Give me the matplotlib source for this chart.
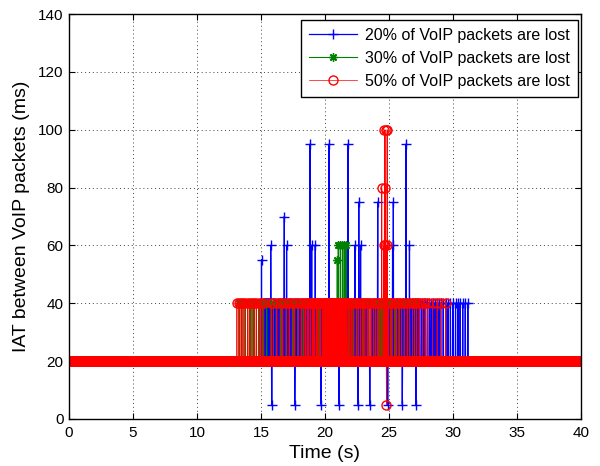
import matplotlib
matplotlib.use("Agg")
import matplotlib.pyplot as plt
import numpy as np

plt.rcParams['font.family'] = ['Liberation Sans', 'DejaVu Sans']

# packets every 20 ms, IAT baseline is 20 ms
packet_step = 0.02
t_end = 40.0
base_iat = 20

# 20% loss: times where one packet was lost (IAT = 40 ms)
blue_loss_t = [
    15.05, 15.12, 15.2, 15.26, 15.3, 15.34, 15.38, 15.42, 15.46, 15.5, 15.54, 15.58, 15.62, 15.66,
    15.7, 15.78, 15.85, 15.92, 16.0,
    16.08, 16.2, 16.3, 16.38, 16.46, 16.55, 16.65, 16.72, 16.8, 16.9, 17.0, 17.1, 17.18, 17.25,
    17.35, 17.45, 17.55, 17.62, 17.7, 17.8, 17.9, 18.0, 18.1, 18.2, 18.3, 18.42,
    18.55, 18.65, 18.78, 18.9, 19.0, 19.12, 19.25, 19.35, 19.48, 19.6, 19.72, 19.85, 20.0, 20.15,
    20.25, 20.4, 20.55, 20.7, 20.85, 21.0, 21.15, 21.3, 21.45, 21.6, 21.72, 21.85, 21.95,
    22.05, 22.15, 22.25, 22.38, 22.5, 22.6, 22.7, 22.82, 22.92, 23.05, 23.15, 23.28, 23.4, 23.5,
    23.62, 23.75, 23.85, 23.98, 24.1, 24.2, 24.32, 24.45, 24.55, 24.68, 24.8, 24.95, 25.05, 25.18,
    25.3, 25.4, 25.52, 25.65, 25.75, 25.88, 26.0,
    26.1, 26.22, 26.35, 26.45, 26.55, 26.68, 26.8, 26.9, 27.02, 27.15, 27.28, 27.4, 27.55, 27.7,
    27.85, 28.0, 28.15, 28.3, 28.45, 28.6, 28.75, 28.9, 29.05,
    29.25, 29.45, 29.62, 29.8, 30.0, 30.2, 30.4, 30.55, 30.75, 30.95, 31.15,
]
blue_spike_t = [15.04, 15.76, 16.83, 17.0, 18.83, 18.95, 19.24, 20.33, 21.79, 22.34, 22.64, 22.78,
                24.13, 25.28, 25.34, 26.31, 26.6]
blue_spike_v = [55, 60, 70, 60, 95, 60, 60, 95, 95, 60, 75, 60,
                75, 60, 75, 95, 60]
blue_dip_t = [15.85, 17.65, 19.7, 21.1, 22.58, 23.5, 24.9, 26.05, 27.1]
blue_dip_v = [5, 5, 5, 5, 5, 5, 5, 5, 5]

# 30% loss
green_loss_t = [
    13.3, 13.5, 13.75, 13.95, 14.2, 14.4, 14.65, 14.9, 15.15, 15.45, 15.8, 16.2, 16.6, 17.0, 17.5,
    17.9, 18.3, 18.7, 19.1, 19.5, 19.9, 20.0, 20.25, 20.6, 20.8, 21.9, 22.2, 22.6, 23.0, 23.4,
    23.8, 24.2, 24.35, 24.5, 24.6, 24.9, 25.2, 25.5, 25.8, 26.2, 26.6, 27.0,
]
green_spike_t = [20.95, 21.05, 21.2, 21.35, 21.5, 21.65]
green_spike_v = [55, 60, 60, 60, 60, 60]

# 50% loss
red_loss_t = [
    13.12, 13.28, 13.44, 13.6, 13.78, 13.95, 14.12, 14.3, 14.48, 14.65, 14.82, 15.0, 15.22,
    15.8, 15.95, 16.25, 16.5, 16.7, 16.95, 17.2, 17.45, 17.65, 17.9, 18.15, 18.35, 18.5, 18.62,
    18.72, 18.85, 19.0, 19.1, 19.2, 19.32, 19.42, 19.55, 19.65, 19.78, 19.9, 20.0, 20.08, 20.15,
    20.22, 20.3, 20.38, 20.45, 20.52, 20.6, 20.68, 20.75, 20.82, 20.9, 21.0, 21.08, 21.16, 21.24,
    21.32, 21.4, 21.48, 21.56, 21.64, 21.72,
    21.82, 21.96, 22.1, 22.26, 22.44, 22.6, 22.8, 22.96, 23.12, 23.3, 23.44, 23.6, 23.8, 23.94,
    24.08, 24.24, 24.56, 24.96, 25.1, 25.24, 25.44, 25.6, 25.8, 26.0, 26.2, 26.42,
    26.62, 26.85, 27.0, 27.15, 27.35, 27.6, 27.85, 28.05, 28.4, 28.75, 29.05, 29.45,
]
red_spike_t = [24.43, 24.6, 24.64, 24.68, 24.72, 24.76, 24.8, 24.84, 24.88]
red_spike_v = [80, 60, 100, 80, 60, 100, 5, 60, 100]

labels = ['20% of VoIP packets are lost', '30% of VoIP packets are lost',
          '50% of VoIP packets are lost']


def build_series(loss_t, extra_t, extra_v):
    t = np.round(np.arange(0, t_end + packet_step / 2, packet_step), 2)
    v = np.full(t.shape, float(base_iat))
    for lt in loss_t:
        v[int(round(lt / packet_step))] = 40
    for et, ev in zip(extra_t, extra_v):
        v[int(round(et / packet_step))] = ev
    return t, v


bt, bv = build_series(blue_loss_t, blue_spike_t + blue_dip_t, blue_spike_v + blue_dip_v)
gt, gv = build_series(green_loss_t, green_spike_t, green_spike_v)
rt, rv = build_series(red_loss_t, red_spike_t, red_spike_v)

fig = plt.figure(figsize=(6.0, 4.66), dpi=100)
ax = fig.add_axes([0.115, 0.1009, 0.8533, 0.869])

ax.plot(bt, bv, color='#0000ff', lw=0.9, marker='+', ms=7.5, mew=1.0, label=labels[0])
ax.plot(gt, gv, color='#008000', lw=0.8, marker=(8, 2, 0), ms=6, mew=1.0, label=labels[1])
ax.plot(rt, rv, color='#ff0000', lw=0.5, marker='o', ms=6.5, mew=1.0, mfc='none', label=labels[2])

ax.set_xlim(0, 40)
ax.set_ylim(0, 140)
ax.set_xticks(np.arange(0, 41, 5))
ax.set_yticks(np.arange(0, 141, 20))
ax.tick_params(direction='in', length=4, top=True, right=True, labelsize=11)
ax.tick_params(axis='x', pad=5)
ax.tick_params(axis='y', pad=4)
ax.grid(True, color='#444444', linestyle=(0, (1, 3)), lw=0.7)
for s in ax.spines.values():
    s.set_linewidth(1.0)

ax.set_xlabel('Time (s)', fontsize=14, labelpad=4)
ax.set_ylabel('IAT between VoIP packets (ms)', fontsize=14, labelpad=6)

leg = ax.legend(loc='upper right', bbox_to_anchor=(0.994, 0.985), borderaxespad=0,
                fontsize=11.5, handlelength=3, fancybox=False, framealpha=1,
                edgecolor='black', borderpad=0.5, labelspacing=0.5, handletextpad=0.5)
leg.get_frame().set_linewidth(1.0)

fig.savefig('out.png', dpi=100, facecolor='white')
